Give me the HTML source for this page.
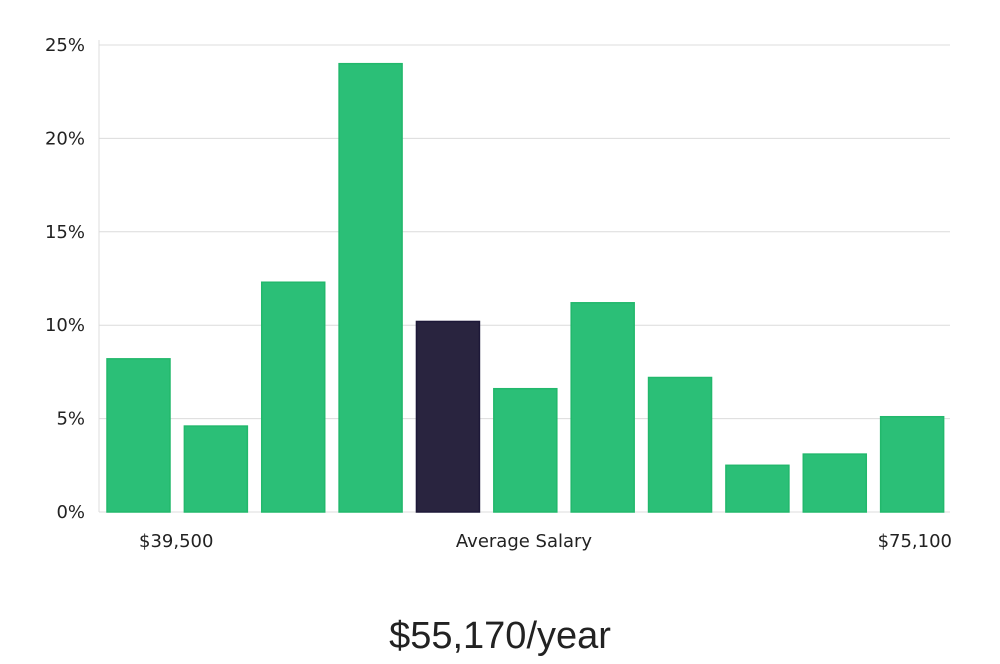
<!DOCTYPE html>
<html><head><meta charset="utf-8"><style>
body{margin:0;background:#fff;width:1000px;height:660px;overflow:hidden;font-family:"DejaVu Sans","Liberation Sans",sans-serif;}
</style></head><body>
<svg width="1000" height="660">
<g id="grid"></g><g id="bars"></g><g id="labels"></g>
<text x="139" y="547" font-size="18" fill="#222">$39,500</text>
<text x="524" y="547" font-size="18" fill="#222" text-anchor="middle">Average Salary</text>
<text x="952" y="547" font-size="18" fill="#222" text-anchor="end">$75,100</text>
<text x="500" y="648" font-size="38" fill="#222" text-anchor="middle" font-family="'Liberation Sans',sans-serif">$55,170/year</text>
</svg>
<script>
const values=[8.2,4.6,12.3,24.0,10.2,6.6,11.2,7.2,2.5,3.1,5.1];
const highlight=[false,false,false,false,true,false,false,false,false,false,false];
const ticks=[0,5,10,15,20,25];
const tickLabels=["0%","5%","10%","15%","20%","25%"];
const NS="http://www.w3.org/2000/svg";
const x0=99,x1=950,y0=512,y25=45;
const y=v=>y0-(v/25)*(y0-y25);
const step=(x1-x0)/values.length;
const g=document.getElementById('grid'),b=document.getElementById('bars');
function mk(t,a,p){const e=document.createElementNS(NS,t);for(const k in a)e.setAttribute(k,a[k]);p.appendChild(e);return e;}
ticks.forEach((t,i)=>{
 const l=mk('line',{x1:x0,x2:x1,y1:y(t),y2:y(t),stroke:'#dcdcdc','stroke-width':1},g);
 
 
 const tx=mk('text',{x:85,y:y(t)+6,'font-size':18,fill:'#222','text-anchor':'end'},g);
 tx.textContent=tickLabels[i];
 
 
});
const ax=mk('line',{x1:x0,x2:x0,y1:40,y2:y0,stroke:'#dcdcdc'},g);


values.forEach((v,i)=>{
 const bw=63,bx=x0+8+i*step;
 const r=mk('rect',{x:bx,y:y(v),width:bw,height:y0-y(v),fill:highlight[i]?'#29243f':'#2bbf77',stroke:highlight[i]?'#1d1838':'#22b86c','stroke-width':1.5},b);
 
 
});
</script>
</body></html>
